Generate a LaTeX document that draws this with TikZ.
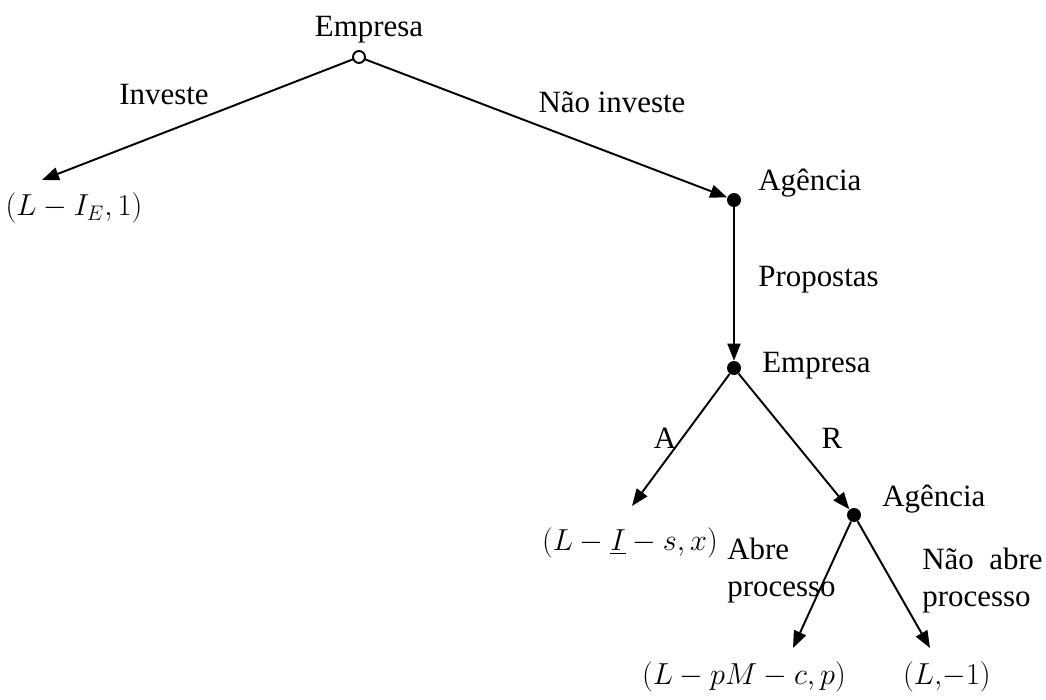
\documentclass[tikz,border=0pt]{standalone}
\usepackage{fontspec}
\setmainfont{Liberation Serif}
\usetikzlibrary{arrows.meta}
\begin{document}
\begin{tikzpicture}[x=0.02cm,y=-0.02cm,
  every node/.style={font=\fontsize{17.6}{21}\selectfont},
  lbl/.style={inner sep=0},
  opendot/.style={circle,draw,fill=white,line width=1.1pt,minimum size=0.24cm,inner sep=0},
  fulldot/.style={circle,fill,minimum size=0.28cm,inner sep=0},
  arr/.style={line width=1.1pt,-{Triangle[length=0.34cm,width=0.26cm]}}]
\useasboundingbox (0,0) rectangle (1046,700);
% decision nodes
\node[fulldot] (ag1) at (734,200) {};
\node[fulldot] (emp2) at (734,368) {};
\node[fulldot] (ag3) at (854,515) {};
% free arrow ends
\coordinate (t1) at (42,180);
\coordinate (t2) at (632,506);
\coordinate (t3) at (793,648);
\coordinate (t4) at (930,648);
% root
\coordinate (rootc) at (359,57);
\draw[arr] (rootc) -- (t1);
\draw[arr] (rootc) -- (ag1);
\node[opendot] (root) at (rootc) {};
\draw[arr] (ag1) -- (emp2);
\draw[arr] (emp2) -- (t2);
\draw[arr] (emp2) -- (ag3);
\draw[arr] (ag3) -- (t3);
\draw[arr] (ag3) -- (t4);
% player labels
\node[lbl] (lroot) at (369,30) {Empresa};
\node[lbl,anchor=west] (lag1) at (758,183) {Agência};
\node[lbl,anchor=west] (lemp2) at (762,366) {Empresa};
\node[lbl,anchor=west] (lag3) at (882,499) {Agência};
% action labels
\node[lbl] (linv) at (164,95) {Investe};
\node[lbl] (lninv) at (612,102) {Não investe};
\node[lbl,anchor=west] (lprop) at (758,280) {Propostas};
\node[lbl] (la) at (665,438) {A};
\node[lbl] (lr) at (832,438) {R};
\node[lbl,anchor=west,align=left] (labre) at (727,571) {Abre\\processo};
\node[lbl,anchor=west,align=left] (lnabre) at (922,581) {Não\ \ abre\\processo};
% payoffs
\node[lbl] (p1) at (74,208) {$(L-I_E,1)$};
\node[lbl] (p2) at (630,543) {$\bigl(L-\underline{I}-s,x\bigr)$};
\node[lbl] (p3) at (744,677) {$(L-pM-c,p)$};
\node[lbl] (p4) at (947,677) {$\bigl(L,\!-1\bigr)$};
\end{tikzpicture}
\end{document}
